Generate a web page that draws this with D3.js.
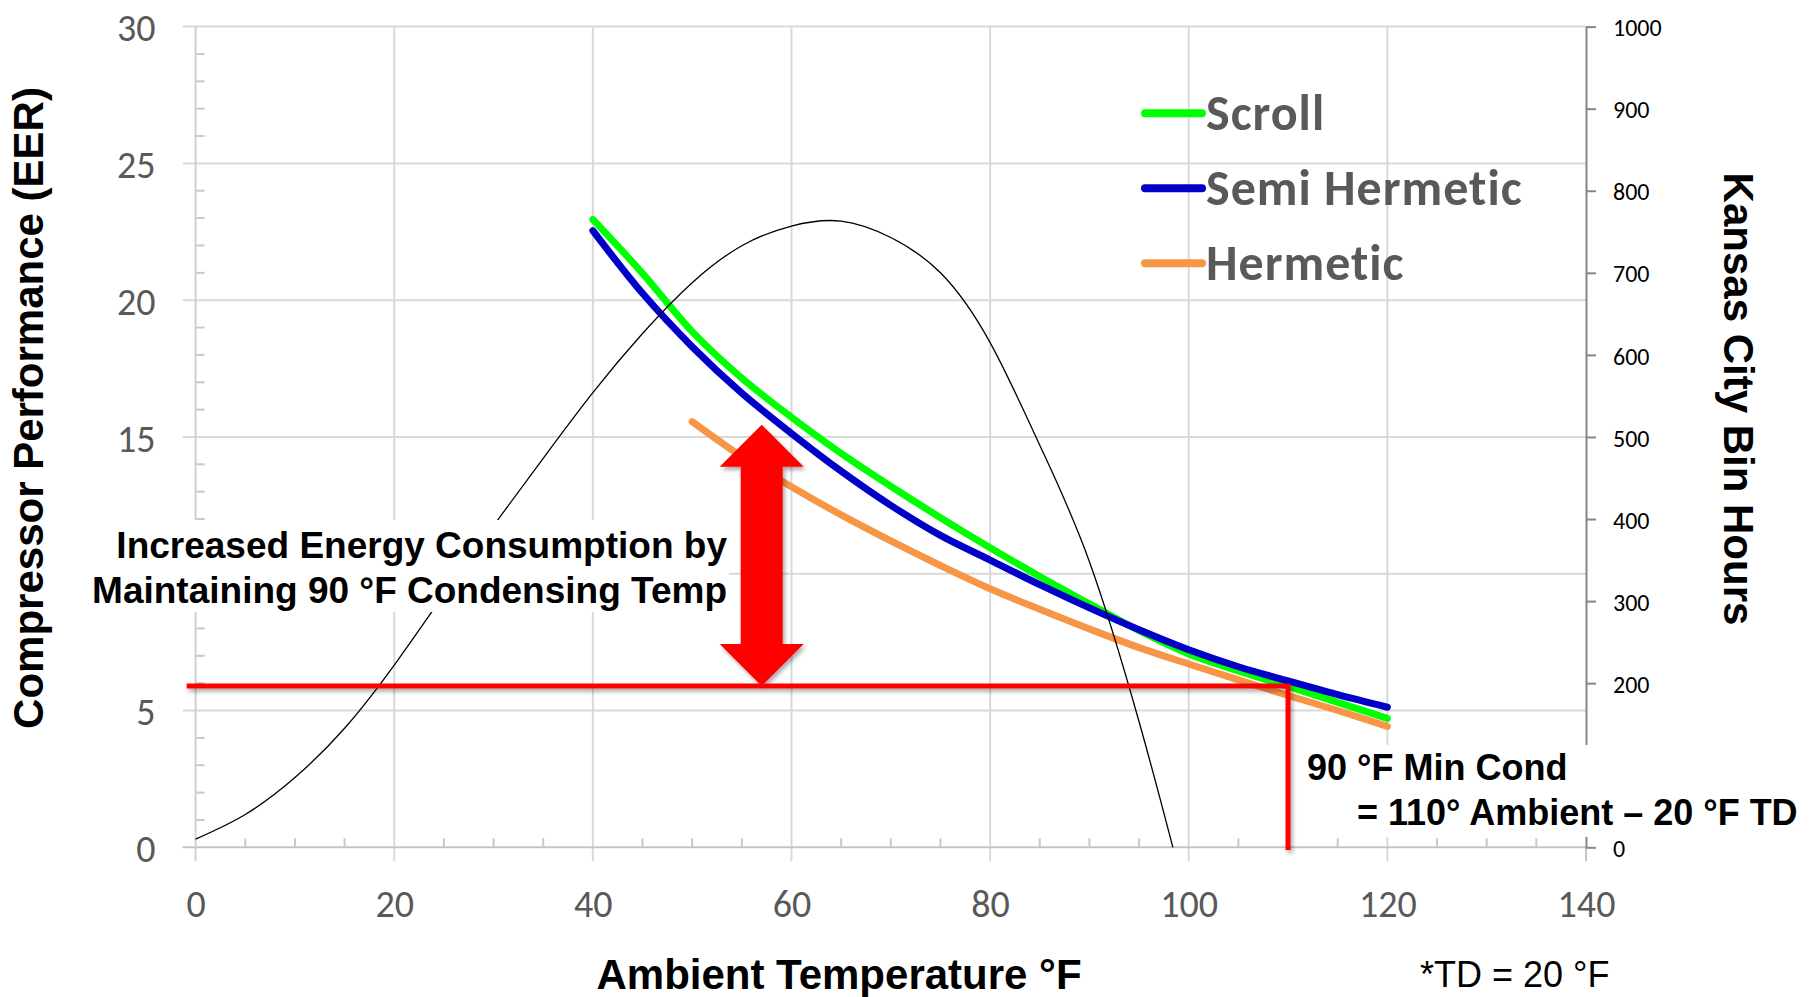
<!DOCTYPE html>
<html>
<head>
<meta charset="utf-8">
<script src="https://cdn.jsdelivr.net/npm/d3@7"></script>
<style>
  html, body { margin: 0; padding: 0; background: #fff; }
  svg { display: block; }
  .tick-lbl { font-family: Carlito, Lato, sans-serif; fill: #595959; }
  .arial { font-family: "Liberation Sans", Arial, sans-serif; }
</style>
</head>
<body>
<div id="chart"></div>
<script>
// axis ticks
const tempTicks = [0, 20, 40, 60, 80, 100, 120, 140];
const eerTicks = [0, 5, 10, 15, 20, 25, 30];
const hourTicks = [0, 100, 200, 300, 400, 500, 600, 700, 800, 900, 1000];
// labels that sit under the annotation boxes are not shown
const eerLabels = [0, 5, 15, 20, 25, 30];
const hourLabels = [0, 200, 300, 400, 500, 600, 700, 800, 900, 1000];

// compressor EER vs ambient temperature
const compTemps = [40, 45, 50, 55, 60, 65, 70, 75, 80, 85, 90, 95, 100, 105, 110, 115, 120];
const scrollEER = [22.95, 20.98, 18.85, 17.15, 15.72, 14.4, 13.2, 12.05, 10.95, 9.9, 8.9, 7.92, 7.07, 6.45, 5.88, 5.3, 4.71];
const semiHermeticEER = [22.54, 20.25, 18.3, 16.6, 15.13, 13.75, 12.5, 11.4, 10.5, 9.6, 8.75, 7.95, 7.22, 6.6, 6.08, 5.58, 5.12];
const hermeticTemps = [50, 55, 60, 65, 70, 75, 80, 85, 90, 95, 100, 105, 110, 115, 120];
const hermeticEER = [15.56, 14.28, 13.18, 12.15, 11.2, 10.3, 9.45, 8.7, 7.98, 7.3, 6.7, 6.12, 5.55, 5.0, 4.42];

// Kansas City bin hours (right axis)
const binTemps = [0, 5, 10, 15, 20, 25, 30, 35, 40, 45, 50, 55, 60, 65, 70, 75, 80, 85, 90, 95, 98.4];
const binHours = [10, 40, 85, 145, 222, 308, 392, 474, 554, 626, 688, 733, 757, 763, 743, 700, 615, 490, 348, 153, 0];

// annotation values
const minCondEER = 5.9;
const minCondAmbient = 110;
const arrowTemp = 57;
const arrowTopEER = 15.45;

const seriesNames = ["Scroll", "Semi Hermetic", "Hermetic"];
const seriesColors = ["#00ff00", "#0000c8", "#f79646"];

const width = 1815, height = 997;

const x = d3.scaleLinear().domain([0, 140]).range([195.6, 1586]);
const y = d3.scaleLinear().domain([0, 30]).range([847.3, 26.6]);
const yR = d3.scaleLinear().domain([0, 1000]).range([847.3, 26.6]);

const svg = d3.select("#chart").append("svg")
    .attr("width", width)
    .attr("height", height);

svg.append("rect").attr("width", width).attr("height", height).attr("fill", "#fff");

const defs = svg.append("defs");
defs.append("filter")
    .attr("id", "shadow")
    .attr("x", "-20%").attr("y", "-20%").attr("width", "140%").attr("height", "140%")
    .append("feDropShadow")
    .attr("dx", 2).attr("dy", 3).attr("stdDeviation", 2)
    .attr("flood-color", "#000").attr("flood-opacity", 0.35);

// gridlines
svg.append("g").selectAll("line")
    .data(eerTicks.filter(d => d > 0))
    .enter().append("line")
    .attr("x1", x(0) - 13).attr("x2", x(140))
    .attr("y1", d => y(d)).attr("y2", d => y(d))
    .attr("stroke", "#d9d9d9").attr("stroke-width", 2);

svg.append("g").selectAll("line")
    .data(tempTicks.filter(d => d > 0 && d < 140))
    .enter().append("line")
    .attr("x1", d => x(d)).attr("x2", d => x(d))
    .attr("y1", y(30)).attr("y2", y(0) + 14)
    .attr("stroke", "#d9d9d9").attr("stroke-width", 2);

// minor ticks
svg.append("g").selectAll("line")
    .data(d3.range(1, 30).filter(d => d % 5 !== 0))
    .enter().append("line")
    .attr("x1", x(0)).attr("x2", x(0) + 9)
    .attr("y1", d => y(d)).attr("y2", d => y(d))
    .attr("stroke", "#c8c8c8").attr("stroke-width", 2);

svg.append("g").selectAll("line")
    .data(d3.range(5, 140, 5).filter(d => d % 20 !== 0))
    .enter().append("line")
    .attr("x1", d => x(d)).attr("x2", d => x(d))
    .attr("y1", y(0)).attr("y2", y(0) - 9)
    .attr("stroke", "#c8c8c8").attr("stroke-width", 2);

// main axis lines
svg.append("line")
    .attr("x1", x(0) - 13).attr("x2", x(140))
    .attr("y1", y(0)).attr("y2", y(0))
    .attr("stroke", "#c4c4c4").attr("stroke-width", 2);
svg.append("line")
    .attr("x1", x(0)).attr("x2", x(0))
    .attr("y1", y(30)).attr("y2", y(0) + 14)
    .attr("stroke", "#d0d0d0").attr("stroke-width", 2);
svg.append("line")
    .attr("x1", x(140)).attr("x2", x(140))
    .attr("y1", y(0)).attr("y2", y(0) + 14)
    .attr("stroke", "#c4c4c4").attr("stroke-width", 2);

// tick labels
const leftAxis = svg.append("g")
    .attr("transform", `translate(${x(0)},0)`)
    .call(d3.axisLeft(y).tickValues(eerLabels).tickSize(0).tickPadding(40));
const bottomAxis = svg.append("g")
    .attr("transform", `translate(0,${y(0)})`)
    .call(d3.axisBottom(x).tickValues(tempTicks).tickSize(0).tickPadding(43));
[leftAxis, bottomAxis].forEach(g => {
    g.select(".domain").remove();
    g.selectAll("text").attr("class", "tick-lbl").attr("font-size", 38).attr("fill", "#595959");
});
leftAxis.selectAll("text").attr("dy", "0.37em");

const rightAxis = svg.append("g")
    .attr("transform", `translate(${x(140)},0)`)
    .call(d3.axisRight(yR).tickValues(hourTicks).tickSize(10).tickSizeOuter(0).tickPadding(17)
        .tickFormat(d => hourLabels.includes(d) ? d3.format("d")(d) : ""));
rightAxis.select(".domain").attr("stroke", "#868686").attr("stroke-width", 2);
rightAxis.selectAll(".tick line").attr("stroke", "#868686").attr("stroke-width", 2);
rightAxis.selectAll("text")
    .attr("font-family", "Carlito, Lato, sans-serif")
    .attr("font-size", 24).attr("fill", "#000").attr("dy", "0.38em");

// compressor lines
const line = d3.line()
    .x(d => x(d[0]))
    .y(d => y(d[1]))
    .curve(d3.curveCatmullRom.alpha(0.5));

const series = [
    compTemps.map((t, i) => [t, scrollEER[i]]),
    compTemps.map((t, i) => [t, semiHermeticEER[i]]),
    hermeticTemps.map((t, i) => [t, hermeticEER[i]])
];

svg.append("g").selectAll("path")
    .data(series)
    .enter().append("path")
    .attr("d", line)
    .attr("fill", "none")
    .attr("stroke", (d, i) => seriesColors[i])
    .attr("stroke-width", 7)
    .attr("stroke-linecap", "round")
    .attr("stroke-linejoin", "round");

// bin hours
const binLine = d3.line()
    .x((d, i) => x(binTemps[i]))
    .y(d => yR(d))
    .curve(d3.curveNatural);

svg.append("path")
    .attr("d", binLine(binHours))
    .attr("fill", "none")
    .attr("stroke", "#000")
    .attr("stroke-width", 1.3);

// annotation boxes
const note1 = svg.append("g").attr("class", "arial");
note1.append("rect")
    .attr("x", 85).attr("y", 520).attr("width", 644).attr("height", 92)
    .attr("fill", "#fff");
note1.selectAll("text")
    .data(["Increased Energy Consumption by", "Maintaining 90 °F Condensing Temp"])
    .enter().append("text")
    .attr("x", 727)
    .attr("y", (d, i) => 558 + i * 45)
    .attr("text-anchor", "end")
    .attr("font-size", 37)
    .attr("font-weight", "bold")
    .attr("fill", "#000")
    .text(d => d);

const note2 = svg.append("g").attr("class", "arial");
note2.append("rect")
    .attr("x", 1296).attr("y", 745).attr("width", 519).attr("height", 92)
    .attr("fill", "#fff");
note2.append("text")
    .attr("x", 1307).attr("y", 780)
    .attr("font-size", 36).attr("font-weight", "bold")
    .text("90 °F Min Cond");
note2.append("text")
    .attr("x", 1357).attr("y", 825)
    .attr("font-size", 36).attr("font-weight", "bold")
    .text("= 110° Ambient – 20 °F TD");

// red min-condensing lines
const red = svg.append("g").attr("filter", "url(#shadow)");
red.append("path")
    .attr("d", `M${x(-0.9)},${y(minCondEER)}H${x(minCondAmbient)}V${y(-0.1)}`)
    .attr("fill", "none")
    .attr("stroke", "#ff0000")
    .attr("stroke-width", 5);

// double arrow
const ax = x(arrowTemp), at = y(arrowTopEER), ab = y(minCondEER);
const head = 42, halfHead = 42, halfShaft = 21;
red.append("path")
    .attr("d", [
        `M${ax},${at}`,
        `L${ax + halfHead},${at + head}`,
        `L${ax + halfShaft},${at + head}`,
        `L${ax + halfShaft},${ab - head}`,
        `L${ax + halfHead},${ab - head}`,
        `L${ax},${ab}`,
        `L${ax - halfHead},${ab - head}`,
        `L${ax - halfShaft},${ab - head}`,
        `L${ax - halfShaft},${at + head}`,
        `L${ax - halfHead},${at + head}`,
        "Z"
    ].join(""))
    .attr("fill", "#ff0000");

// legend
const legend = svg.append("g").selectAll("g")
    .data(seriesNames)
    .enter().append("g")
    .attr("transform", (d, i) => `translate(1145,${113.3 + i * 75})`);
legend.append("line")
    .attr("x1", 0).attr("x2", 57)
    .attr("stroke", (d, i) => seriesColors[i])
    .attr("stroke-width", 8)
    .attr("stroke-linecap", "round");
legend.append("text")
    .attr("x", 61).attr("y", 17)
    .attr("font-family", "Carlito, Lato, sans-serif")
    .attr("font-weight", "bold")
    .attr("font-size", 50)
    .attr("letter-spacing", 1)
    .attr("fill", "#595959")
    .text(d => d);

// axis titles
svg.append("text")
    .attr("class", "arial")
    .attr("transform", "translate(43,408) rotate(-90)")
    .attr("text-anchor", "middle")
    .attr("font-size", 42).attr("font-weight", "bold")
    .text("Compressor Performance (EER)");

svg.append("text")
    .attr("class", "arial")
    .attr("transform", "translate(1724,399) rotate(90)")
    .attr("text-anchor", "middle")
    .attr("font-size", 42).attr("font-weight", "bold")
    .text("Kansas City Bin Hours");

svg.append("text")
    .attr("class", "arial")
    .attr("x", 839).attr("y", 989)
    .attr("text-anchor", "middle")
    .attr("font-size", 42).attr("font-weight", "bold")
    .text("Ambient Temperature °F");

svg.append("text")
    .attr("class", "arial")
    .attr("x", 1420).attr("y", 987)
    .attr("font-size", 36)
    .text("*TD = 20 °F");
</script>
</body>
</html>
